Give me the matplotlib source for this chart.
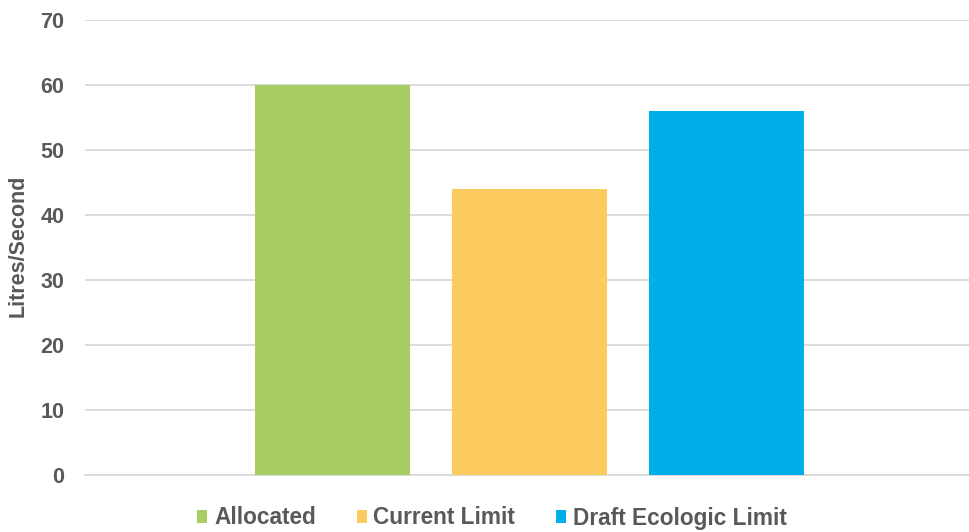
import matplotlib.pyplot as plt

# Werte
categories = ["Allocated", "Current Limit", "Draft Ecologic Limit"]
values = [60, 44, 56]
colors = ["#A9CD63", "#FBCB5F", "#00AEE8"]
yticks = [0, 10, 20, 30, 40, 50, 60, 70]

plt.rcParams['font.family'] = ['Liberation Sans', 'DejaVu Sans']
plt.rcParams['font.weight'] = 'bold'

fig = plt.figure(figsize=(9.7, 5.32), dpi=100)
ax = fig.add_axes([0.0876, 0.107, 0.9124, 0.855])

# Saeulen
positions = list(range(len(categories)))
handles = []
for x, v, c, name in zip(positions, values, colors, categories):
    h = ax.bar(x, v, width=0.787, color=c, label=name, zorder=3)
    handles.append(h)

ax.set_xlim(-1.256, 3.236)
ax.set_ylim(0, 70)
ax.set_yticks(yticks)
ax.set_xticks([])

# Gitterlinien
ax.grid(axis='y', color='#D9D9D9', linewidth=1.3, zorder=0)
for s in ['top', 'right', 'left']:
    ax.spines[s].set_visible(False)
ax.spines['bottom'].set_color('#D9D9D9')
ax.spines['bottom'].set_linewidth(1.3)

ax.tick_params(axis='y', length=0, pad=15, labelsize=15.5, labelcolor='#595959')
for lbl in ax.get_yticklabels():
    lbl.set_fontweight('bold')

fig.text(0.019, 1 - 246 / 532, "Litres/Second", rotation=90, ha='center', va='center',
         fontsize=15.5, fontweight='bold', color='#595959')

# Legende unten
fig.legend(handles=handles, labels=categories, loc='center',
           bbox_to_anchor=(492 / 970, 1 - 518 / 532), ncol=3, frameon=False,
           fontsize=16.3, handlelength=0.45, handleheight=0.45, handletextpad=0.3,
           columnspacing=1.8, labelcolor='#595959')

fig.savefig("out.png", dpi=100)
